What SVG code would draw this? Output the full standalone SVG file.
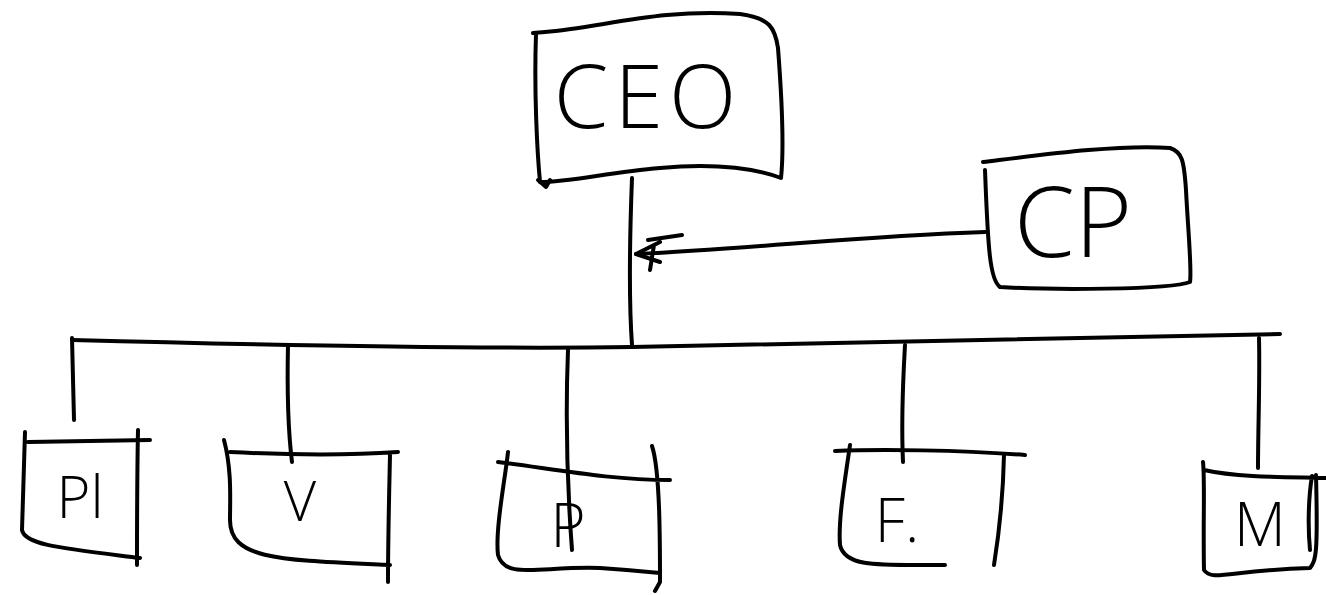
<svg xmlns="http://www.w3.org/2000/svg" width="1326" height="595" viewBox="0 0 1326 595">
<style>
.s{fill:none;stroke:#000;stroke-width:4;stroke-linecap:round;stroke-linejoin:round}
.t{font-family:"Open Sans","Liberation Sans",sans-serif;font-weight:300;fill:#000;text-anchor:middle}
</style>
<rect width="1326" height="595" fill="#fff"/>
<g id="connectors">
<path class="s" d="M632,178 C630,230 628,290 632,345"/>
<path class="s" d="M985,232 C860,236 760,248 636,254"/>
<path class="s" d="M636,254 L660,242 M636,254 L660,262 M648,240 L682,235 M654,245 L650,270"/>
<path class="s" d="M72,340 C300,346 500,349 632,347 C800,344 1000,340 1280,334"/>
<path class="s" d="M72,338 L74,420"/>
<path class="s" d="M288,345 C287,390 288,430 292,462"/>
<path class="s" d="M568,350 C566,400 566,470 572,550"/>
<path class="s" d="M905,345 C903,380 901,420 903,462"/>
<path class="s" d="M1259,338 C1260,380 1258,430 1258,468"/>
</g>
<g id="ceo">
<path class="s" d="M533,33 L545,32 C600,28 660,8 740,14 C770,18 775,28 778,48 C782,100 784,150 781,178 C760,170 720,162 660,168 C610,172 570,182 540,182 C537,150 534,90 536,34"/>
<path class="s" d="M538,180 L546,187 L550,180"/>
<text class="t" x="648" y="128" font-size="88" letter-spacing="6">CEO</text>
</g>
<g id="cp">
<path class="s" d="M983,162 C1040,155 1120,144 1170,148 C1182,152 1184,160 1186,190 C1188,230 1192,270 1190,282 C1170,290 1050,290 1000,287 C990,280 988,250 985,170"/>
<text class="t" x="1073" y="257" font-size="98">CP</text>
</g>
<g id="pl">
<path class="s" d="M25,432 L22,530 C25,545 60,548 140,558 M28,442 L150,440 M138,430 C137,480 137,520 137,565"/>
<text class="t" x="80" y="518" font-size="58">Pl</text>
</g>
<g id="v">
<path class="s" d="M224,440 C232,470 230,500 230,520 C230,560 280,560 390,565 M230,452 C290,455 340,456 398,452 M390,455 C389,500 388,540 388,582"/>
<text class="t" x="300" y="521" font-size="56">V</text>
</g>
<g id="p">
<path class="s" d="M508,452 C505,480 495,530 498,555 C505,580 540,566 600,568 C630,570 650,572 660,573 M498,462 C560,470 610,480 670,480 M652,446 C660,470 660,540 660,582 L655,591"/>
<text class="t" x="568" y="547" font-size="60">P</text>
</g>
<g id="f">
<path class="s" d="M850,445 C845,480 838,520 840,545 C845,568 880,565 945,565 M835,451 C880,449 960,450 1025,455 M1004,455 C1003,500 998,540 994,565"/>
<text class="t" x="897" y="542" font-size="60">F.</text>
</g>
<g id="m">
<path class="s" d="M1203,462 C1205,480 1203,520 1204,570 C1212,582 1230,570 1310,568 C1316,560 1318,555 1316,475 M1204,470 C1240,478 1290,477 1326,478 M1312,476 C1308,500 1308,530 1310,550"/>
<text class="t" x="1260" y="546" font-size="60">M</text>
</g>
</svg>
